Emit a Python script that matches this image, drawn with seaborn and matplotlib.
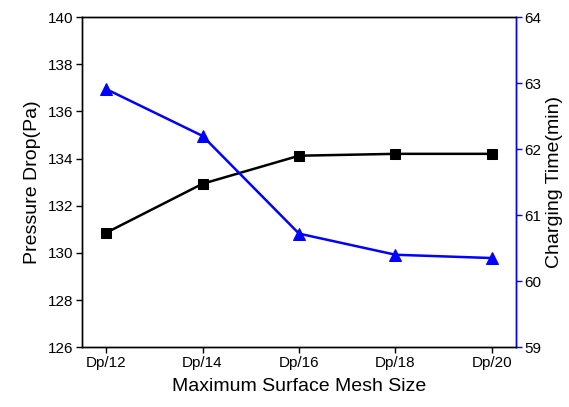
import numpy as np
import pandas as pd
import matplotlib
matplotlib.use("Agg")
import matplotlib.pyplot as plt
import seaborn as sns

# valores
mesh_sizes = ["Dp/12", "Dp/14", "Dp/16", "Dp/18", "Dp/20"]
pressure_drop = [130.85, 132.93, 134.12, 134.2, 134.2]
charging_time = [62.91, 62.2, 60.72, 60.4, 60.35]

sns.set_style("ticks")
plt.rcParams['font.family'] = ['Liberation Sans', 'DejaVu Sans']
plt.rcParams['text.color'] = 'black'
plt.rcParams['axes.labelcolor'] = 'black'
plt.rcParams['xtick.color'] = 'black'
plt.rcParams['ytick.color'] = 'black'

df = pd.DataFrame({
    "idx": np.arange(len(mesh_sizes)),
    "Mesh": mesh_sizes,
    "Pressure": pressure_drop,
    "Time": charging_time,
})

fig, ax = plt.subplots(figsize=(5.69, 4.07), dpi=100)
fig.subplots_adjust(left=0.144, right=0.907, top=0.958, bottom=0.147)

sns.lineplot(data=df, x="idx", y="Pressure", ax=ax, color="black",
             marker="s", markersize=7, linewidth=1.8,
             markeredgecolor="black")

ax2 = ax.twinx()
sns.lineplot(data=df, x="idx", y="Time", ax=ax2, color="#0000ff",
             marker="^", markersize=8, linewidth=1.8,
             markeredgecolor="#0000ff")

ax.set_xlim(-0.25, 4.25)
ax.set_ylim(126, 140)
ax.set_yticks(np.arange(126, 141, 2))
ax.set_xticks(df["idx"])
ax.set_xticklabels(mesh_sizes)
ax2.set_ylim(59, 64)
ax2.set_yticks(np.arange(59, 65, 1))

ax.set_xlabel("Maximum Surface Mesh Size", fontsize=14, labelpad=6)
ax.set_ylabel("Pressure Drop(Pa)", fontsize=14, labelpad=5)
ax2.set_ylabel("Charging Time(min)", fontsize=14, labelpad=3)

for a in (ax, ax2):
    a.tick_params(direction="out", length=4, width=1, labelsize=11, pad=2)
    for s in a.spines.values():
        s.set_linewidth(1)
        s.set_color("black")

ax2.spines["right"].set_color("#0000ff")
ax2.tick_params(axis="y", colors="#0000ff", labelcolor="black")

fig.savefig("out.png", dpi=100)
